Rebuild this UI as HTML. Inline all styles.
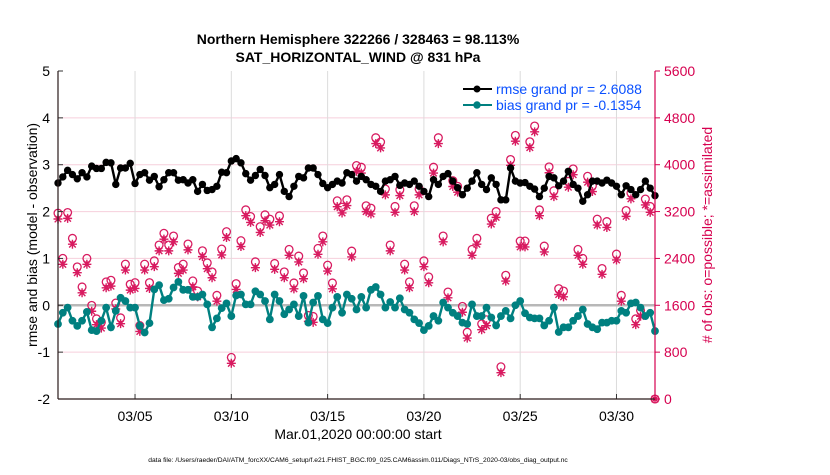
<!DOCTYPE html>
<html><head><meta charset="utf-8"><style>
body{margin:0;background:#fff;}
svg text{font-family:"Liberation Sans",sans-serif;}
</style></head><body>
<svg id="chart" width="830" height="470" xmlns="http://www.w3.org/2000/svg">
<g id="grid"></g>
<g id="obs"></g>
<g id="lines"></g>
<g id="axes"></g>
<text x="358" y="44" text-anchor="middle" font-size="14" font-weight="bold">Northern Hemisphere 322266 / 328463 = 98.113%</text>
<text x="358" y="62" text-anchor="middle" font-size="14" font-weight="bold">SAT_HORIZONTAL_WIND @ 831 hPa</text>
<text transform="translate(37,235) rotate(-90)" text-anchor="middle" font-size="14">rmse and bias (model - observation)</text>
<text transform="translate(712,235) rotate(-90)" text-anchor="middle" font-size="14" fill="#d6004f">#&#160;of obs: o=possible; *=assimilated</text>
<text x="358" y="439" text-anchor="middle" font-size="14">Mar.01,2020 00:00:00 start</text>
<text x="358" y="462" text-anchor="middle" font-size="6.7">data file: /Users/raeder/DAI/ATM_forcXX/CAM6_setup/f.e21.FHIST_BGC.f09_025.CAM6assim.011/Diags_NTrS_2020-03/obs_diag_output.nc</text>
<g>
<line x1="463" y1="89" x2="492" y2="89" stroke="#000" stroke-width="2"/><circle cx="477" cy="89" r="3.5" fill="#000"/>
<text x="496" y="94" font-size="14" fill="#0a50ff">rmse grand pr = 2.6088</text>
<line x1="463" y1="105" x2="492" y2="105" stroke="#008080" stroke-width="2"/><circle cx="477" cy="105" r="3.7" fill="#008080"/>
<text x="496" y="110" font-size="14" fill="#0a50ff">bias grand pr = -0.1354</text>
</g>
</svg>
<script>
const rmse=[2.61,2.74,2.88,2.79,2.70,2.83,2.74,2.97,2.92,2.92,3.05,3.04,2.58,2.93,2.93,3.03,2.60,2.79,2.83,2.67,2.75,2.53,2.68,2.83,2.83,2.67,2.68,2.61,2.68,2.43,2.58,2.45,2.47,2.54,2.84,2.83,3.08,3.13,3.04,2.81,2.67,2.77,2.90,
2.77,2.51,2.58,2.79,2.43,2.32,2.54,2.75,2.72,2.93,2.93,2.79,2.60,2.51,2.58,2.65,2.61,2.83,2.79,2.65,2.75,2.68,2.58,2.54,2.43,2.65,2.68,2.75,2.56,2.61,2.58,2.65,2.54,2.43,2.32,2.68,2.58,2.75,2.81,2.65,2.51,2.36,
2.50,2.65,2.83,2.58,2.47,2.72,2.58,2.25,2.25,2.93,2.65,2.61,2.62,2.54,2.48,2.32,2.50,2.75,2.72,2.55,2.65,2.86,2.58,2.50,2.22,2.36,2.65,2.65,2.61,2.67,2.61,2.54,2.36,2.55,2.47,2.36,2.47,2.65,2.50,2.34];
const bias=[-0.40,-0.16,-0.05,-0.33,-0.44,-0.33,-0.14,-0.53,-0.55,-0.33,-0.05,-0.47,-0.12,0.16,0.09,-0.05,-0.05,-0.44,-0.58,-0.38,0.34,0.43,0.11,0.14,0.38,0.50,0.33,0.33,0.18,0.18,0.23,0.02,-0.47,-0.28,-0.06,0.04,-0.23,0.21,0.23,0.02,0.02,0.30,0.23,
0.09,-0.30,0.23,0.09,-0.19,-0.09,0.02,-0.23,0.20,-0.37,0.06,0.20,-0.30,-0.38,-0.05,0.18,-0.16,0.23,0.14,-0.09,0.18,-0.05,0.33,0.39,0.23,-0.05,0.07,-0.05,0.15,-0.09,-0.16,-0.30,-0.38,-0.53,-0.44,-0.23,-0.33,0.06,-0.05,-0.16,-0.23,-0.37,
-0.40,0.02,-0.23,-0.23,-0.05,-0.26,-0.43,-0.23,-0.12,-0.28,0.00,0.09,-0.17,-0.26,-0.28,-0.28,-0.43,-0.33,-0.05,-0.57,-0.47,-0.47,-0.33,-0.23,-0.09,-0.40,-0.47,-0.51,-0.37,-0.37,-0.33,-0.33,-0.12,-0.16,0.04,0.06,-0.05,-0.23,-0.16,-0.55];
const possible=[3173,2400,3184,2743,2256,1913,2400,1598,1369,1311,1999,2027,1638,1386,2302,1959,1987,1254,2302,1987,2359,2629,2829,2629,2783,2245,2302,2646,2016,1844,2531,2325,2170,1770,2560,2857,710,1970,2703,3230,3115,2342,2943,3144,
3070,2314,3127,2170,2554,1981,2440,2153,1426,1409,2571,2783,2285,1981,3384,3276,3402,2525,3986,3957,3299,3259,4461,4387,3585,2629,3287,3573,2302,1999,3299,3585,2359,2084,3957,4461,2783,1827,3728,3631,1581,
1140,2554,2743,1283,1352,3087,3201,550,2113,4089,4501,2697,2697,4392,4661,3230,2611,3963,3556,1884,1844,3716,3929,2554,2400,3802,3642,3070,2228,3029,null,2474,1770,3218,3517,1369,1512,3414,3287,0];
const assimilated=[3073,2300,3084,2643,2156,1813,2300,1498,1269,1211,1899,1927,1538,1286,2202,1859,1887,1154,2202,1887,2259,2529,2729,2529,2683,2145,2202,2546,1916,1744,2431,2225,2070,1670,2460,2757,610,1870,2603,3130,3015,2242,2843,3044,
2970,2214,3027,2070,2454,1881,2340,2053,1326,1309,2471,2683,2185,1881,3284,3176,3302,2425,3886,3857,3199,3159,4361,4287,3485,2529,3187,3473,2202,1899,3199,3485,2259,1984,3857,4361,2683,1727,3628,3531,1481,
1040,2454,2643,1183,1252,2987,3101,450,2013,3989,4401,2597,2597,4292,4561,3130,2511,3863,3456,1784,1744,3616,3829,2454,2300,3702,3542,2970,2128,2929,null,2374,1670,3118,3417,1269,1412,3314,3187,0];
const xTickDays=[5,10,15,20,25,30];
const xTickLabels=["03/05","03/10","03/15","03/20","03/25","03/30"];
const leftTicks=[5,4,3,2,1,0,-1,-2];
const rightTicks=[0,800,1600,2400,3200,4000,4800,5600];

const NS="http://www.w3.org/2000/svg";
const X0=58,X1=655,Y0=71,Y1=399;
const xd=d=>X0+(d-1)/31*(X1-X0);
const yl=v=>Y1-(v+2)/7*(Y1-Y0);
const yr=c=>Y1-c/5600*(Y1-Y0);
const dayOf=i=>1+i*0.25;
function mk(tag,attrs,parent){const e=document.createElementNS(NS,tag);for(const k in attrs)e.setAttribute(k,attrs[k]);parent.appendChild(e);return e;}
const grid=document.getElementById('grid'),axes=document.getElementById('axes'),obs=document.getElementById('obs'),lines=document.getElementById('lines');

leftTicks.forEach(v=>{
  if(v!==0&&v!==-2&&v!==5){const g=mk('line',{x1:X0,x2:X1,y1:yl(v),y2:yl(v),stroke:'#f6cfdc','stroke-width':1},grid);
  
  }
  const t=mk('text',{x:X0-8,y:yl(v)+5,'text-anchor':'end','font-size':14},axes);t.textContent=v;
  
  
  mk('line',{x1:X0,x2:X0+5,y1:yl(v),y2:yl(v),stroke:'#333'},axes);
});
xTickDays.forEach((d,i)=>{
  const g=mk('line',{x1:xd(d),x2:xd(d),y1:Y0,y2:Y1,stroke:'#dcdcdc','stroke-width':1},grid);
  
  
  mk('line',{x1:xd(d),x2:xd(d),y1:Y1,y2:Y1-5,stroke:'#333'},axes);
  const t=mk('text',{x:xd(d),y:Y1+22,'text-anchor':'middle','font-size':14},axes);t.textContent=xTickLabels[i];
  
  
});
const zl=mk('line',{x1:X0,x2:X1,y1:yl(0),y2:yl(0),stroke:'#b8b8b8','stroke-width':2.5},grid);


rightTicks.forEach(c=>{
  mk('line',{x1:X1,x2:X1+5,y1:yr(c),y2:yr(c),stroke:'#d6004f'},axes);
  const t=mk('text',{x:X1+9,y:yr(c)+5,'font-size':14,fill:'#d6004f'},axes);t.textContent=c;
  
  
});
mk('line',{x1:X0,x2:X0,y1:Y0,y2:Y1,stroke:'#2a1a1a','stroke-width':1.2},axes);
mk('line',{x1:X0,x2:X1,y1:Y1,y2:Y1,stroke:'#2a1a1a','stroke-width':1.2},axes);
mk('line',{x1:X1,x2:X1,y1:Y0,y2:Y1,stroke:'#d6004f','stroke-width':1.2},axes);

const C='#d81b60';
possible.forEach((c,i)=>{
  if(c===null)return;
  const m=mk('circle',{cx:xd(dayOf(i)),cy:yr(c),r:3.9,fill:'none',stroke:C,'stroke-width':1.3},obs);
  
  
});
assimilated.forEach((c,i)=>{
  if(c===null)return;
  const x=xd(dayOf(i)),y=yr(c);
  const g=mk('path',{d:`M${x-4.5} ${y}H${x+4.5}M${x} ${y-4.5}V${y+4.5}M${x-3.3} ${y-3.3}L${x+3.3} ${y+3.3}M${x-3.3} ${y+3.3}L${x+3.3} ${y-3.3}`,stroke:C,'stroke-width':1.4},obs);
  
  
});
function series(arr,color,r,name){
  const pts=arr.map((v,i)=>xd(dayOf(i)).toFixed(1)+','+yl(v).toFixed(1)).join(' ');
  const pl=mk('polyline',{points:pts,fill:'none',stroke:color,'stroke-width':2.4},lines);
  
  
  arr.forEach((v,i)=>{const c=mk('circle',{cx:xd(dayOf(i)),cy:yl(v),r:r,fill:color},lines);
    
    });
}
series(rmse,'#000',3.7,'rmse');
series(bias,'#008080',3.9,'bias');
</script>
</body></html>
